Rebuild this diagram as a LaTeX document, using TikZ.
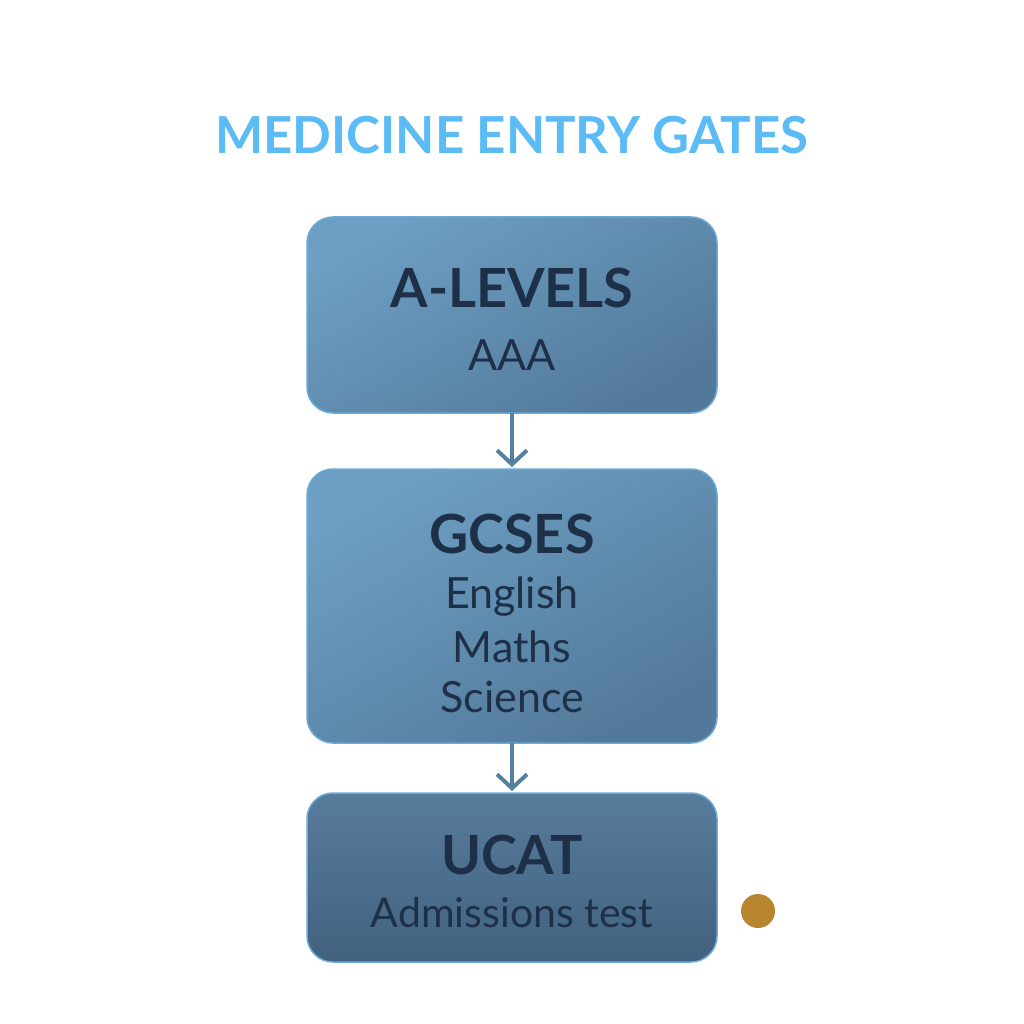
\documentclass[tikz,border=0pt]{standalone}
\usepackage{fontspec}
\setmainfont{Lato}
\usetikzlibrary{arrows.meta}
\definecolor{titleblue}{HTML}{5BBCF5}
\definecolor{boxedge}{HTML}{6AAAD8}
\definecolor{boxtop}{HTML}{6C9FC3}
\definecolor{boxbot}{HTML}{53799A}
\definecolor{boxtopd}{HTML}{587C9C}
\definecolor{boxbotd}{HTML}{42617F}
\definecolor{navy}{HTML}{1E3048}
\definecolor{arrowc}{HTML}{55809F}
\definecolor{dotc}{HTML}{B8862E}
\tikzset{
  gatebox/.style={draw=boxedge, line width=1.5pt, rounded corners=26pt,
    top color=boxtop, bottom color=boxbot, shading angle=30},
  gateboxdark/.style={gatebox, top color=boxtopd, bottom color=boxbotd},
  head/.style={text=navy, font=\fontsize{54}{62}\selectfont\bfseries},
  sub/.style={text=navy, font=\fontsize{43}{52}\selectfont},
  flow/.style={draw=arrowc, line width=4pt, -{Straight Barb[length=14pt,width=30pt,line width=4pt]}}
}
\begin{document}
\begin{tikzpicture}[x=1pt,y=-1pt]
\useasboundingbox[fill=white] (0,0) rectangle (1024,1024);
\node[text=titleblue, font=\fontsize{51}{60}\selectfont\bfseries] (title) at (512,135) {MEDICINE ENTRY GATES};

\path[gatebox] (307,217) rectangle (717,413);
\coordinate (b1b) at (512,413);
\node[head] (alev) at (512,288) {A-LEVELS};
\node[sub] (aaa) at (512,355) {AAA};

\path[gatebox] (307,469) rectangle (717,743);
\coordinate (b2t) at (512,467);
\coordinate (b2b) at (512,743);
\node[head] (gcse) at (512,534) {GCSES};
\node[sub] (eng) at (512,597) {English};
\node[sub] (mat) at (512,647) {Maths};
\node[sub] (sci) at (512,697) {Science};

\path[gateboxdark] (307,793) rectangle (717,962);
\coordinate (b3t) at (512,791);
\node[head] (ucat) at (512,855) {UCAT};
\node[sub, font=\fontsize{41}{50}\selectfont] (adm) at (512,913) {Admissions test};

\draw[flow] (b1b) -- (b2t);
\draw[flow] (b2b) -- (b3t);

\fill[dotc] (758,911) circle (17);
\end{tikzpicture}
\end{document}
